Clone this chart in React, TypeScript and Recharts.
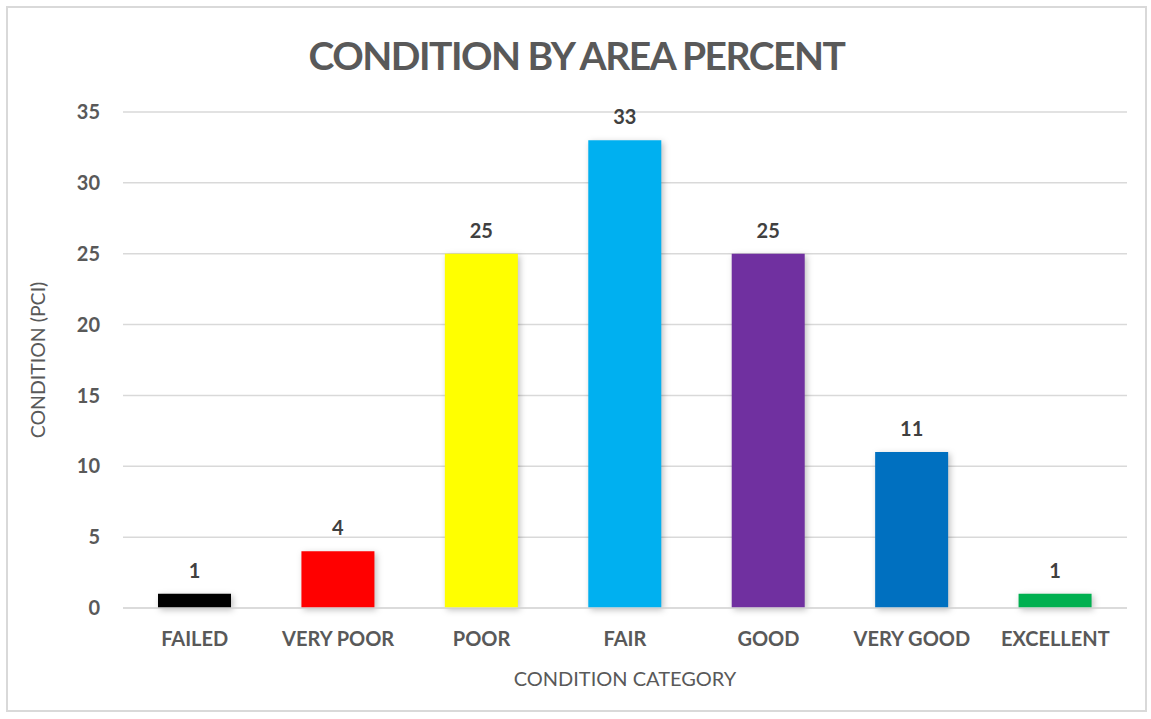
import { BarChart, Bar, XAxis, YAxis, CartesianGrid, Cell, LabelList, Label } from "recharts";

const categories: string[] = ["FAILED", "VERY POOR", "POOR", "FAIR", "GOOD", "VERY GOOD", "EXCELLENT"];
const percents: number[] = [1, 4, 25, 33, 25, 11, 1];
const barColors: string[] = ["#000000", "#FF0000", "#FFFF00", "#00B0F0", "#7030A0", "#0070C0", "#00B050"];
const yTicks: number[] = [0, 5, 10, 15, 20, 25, 30, 35];

const data = categories.map((name, i) => ({ name, value: percents[i] }));

const FONT = "Lato, 'Open Sans', sans-serif";
const GREY = "#595959";

export default function App() {
  return (
    <div
      style={{
        position: "absolute",
        left: 6,
        top: 6,
        width: 1141,
        height: 706,
        boxSizing: "border-box",
        border: "2px solid #d9d9d9",
        background: "#fff",
        fontFamily: FONT,
      }}
    >
      <div
        style={{
          position: "absolute",
          left: 0,
          right: 0,
          top: 24,
          textAlign: "center",
          fontSize: 39,
          letterSpacing: -1.5,
          fontWeight: 700,
          color: GREY,
        }}
      >
        CONDITION BY AREA PERCENT
      </div>
      <BarChart
        width={1137}
        height={702}
        data={data}
        margin={{ top: 104, right: 18, bottom: 0, left: 0 }}
        style={{ position: "absolute", left: 0, top: 0 }}
      >
        <CartesianGrid vertical={false} stroke="#d9d9d9" strokeWidth={1.5} />
        <XAxis
          dataKey="name"
          height={102}
          axisLine={{ stroke: "#d9d9d9", strokeWidth: 1.5 }}
          tickLine={false}
          tickSize={0}
          tickMargin={24}
          tick={{ fill: GREY, fontSize: 20, fontWeight: 700, fontFamily: FONT }}
          interval={0}
        >
          <Label
            value="CONDITION CATEGORY"
            position="insideBottom"
            offset={24}
            style={{ fill: GREY, fontSize: 20, fontFamily: FONT }}
          />
        </XAxis>
        <YAxis
          width={115}
          domain={[0, 35]}
          ticks={yTicks}
          axisLine={false}
          tickLine={false}
          tickSize={0}
          tickMargin={23}
          tick={{ fill: GREY, fontSize: 20, fontWeight: 700, fontFamily: FONT }}
        >
          <Label
            value="CONDITION (PCI)"
            angle={-90}
            position="insideLeft"
            offset={30}
            style={{ fill: GREY, fontSize: 19.5, fontFamily: FONT, textAnchor: "middle" }}
          />
        </YAxis>
        <Bar dataKey="value" barSize={73} isAnimationActive={false}>
          {data.map((_, i) => (
            <Cell
              key={i}
              fill={barColors[i]}
              style={{ filter: "drop-shadow(2px 2px 3px rgba(0,0,0,0.25))" }}
            />
          ))}
          <LabelList
            dataKey="value"
            position="top"
            offset={16}
            style={{ fill: "#404040", fontSize: 20, fontWeight: 700, fontFamily: FONT }}
          />
        </Bar>
      </BarChart>
    </div>
  );
}
